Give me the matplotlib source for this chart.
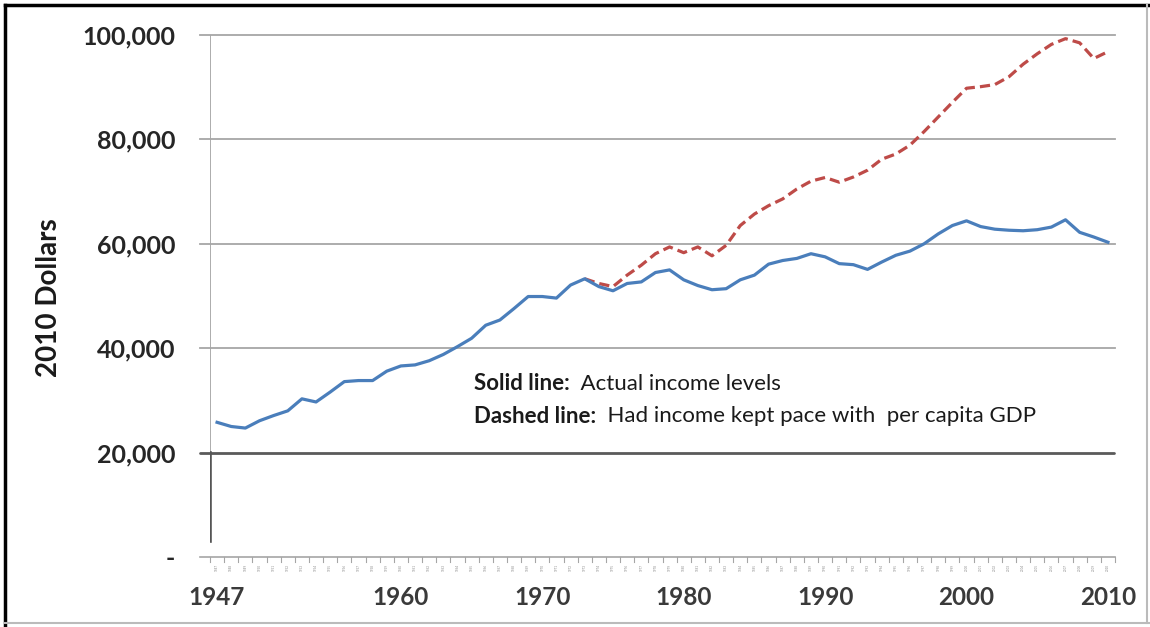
import matplotlib
matplotlib.use('Agg')
import matplotlib.pyplot as plt
from matplotlib.lines import Line2D
import numpy as np

plt.rcParams['font.family'] = ['Lato', 'DejaVu Sans']

# Median family income, 2010 dollars
years = list(range(1947, 2011))
actual_income = [
    25800, 25000, 24700, 26100, 27100, 28000, 30300, 29700, 31600, 33600,
    33800, 33800, 35600, 36600, 36800, 37600, 38800, 40300, 41900, 44400,
    45400, 47600, 49900, 49900, 49600, 52100, 53300, 51800, 51000, 52400,
    52700, 54500, 55000, 53100, 52000, 51200, 51400, 53100, 54000, 56100,
    56800, 57200, 58100, 57500, 56200, 56000, 55100, 56500, 57800, 58600,
    60000, 61900, 63500, 64400, 63300, 62800, 62600, 62500, 62700, 63200,
    64600, 62200, 61300, 60300,
]
# Income had it grown with per capita GDP after 1973
gdp_years = list(range(1973, 2011))
gdp_pace_income = [
    53300, 52400, 51800, 54000, 55900, 58100, 59400, 58300, 59400, 57700,
    59700, 63500, 65700, 67300, 68600, 70500, 72000, 72700, 71800, 72800,
    74100, 76200, 77200, 78900, 81500, 84300, 87100, 89800, 90100, 90500,
    92000, 94400, 96400, 98200, 99300, 98500, 95500, 96800,
]
y_ticks = [0, 20000, 40000, 60000, 80000, 100000]
y_tick_labels = ['-', '20,000', '40,000', '60,000', '80,000', '100,000']
big_year_labels = [1947, 1960, 1970, 1980, 1990, 2000, 2010]

fig = plt.figure(figsize=(11.5, 6.27), dpi=100)
fig.patch.set_facecolor('white')
ax = fig.add_axes([210 / 1150, 70 / 627, 905 / 1150, 522 / 627])

for s in ax.spines.values():
    s.set_visible(False)

ax.set_xlim(1946.5, 2010.5)
ax.set_ylim(0, 100000)

# gridlines with short outward ticks on the left
grid_col = '#a6a6a6'
for v in y_ticks[2:]:
    ax.plot([1945.8, 2010.5], [v, v], color=grid_col, lw=1.3, clip_on=False, zorder=1)
ax.plot([1946.5, 1946.5], [20000, 100000], color=grid_col, lw=1.3, zorder=1)

# heavy line at 20,000 and the stub below it
ax.plot([1945.8, 2010.4], [20000, 20000], color='#5a5a5a', lw=2.0, clip_on=False, zorder=2,
        solid_capstyle='round')
ax.plot([1946.5, 1946.5], [3000, 20000], color='#555555', lw=2.6, zorder=2)

# category axis at zero with a tick between each year
ax.plot([1945.8, 2010.5], [0, 0], color=grid_col, lw=1.2, clip_on=False, zorder=1)
for edge in np.arange(1946.5, 2011, 1.0):
    ax.plot([edge, edge], [0, -900], color=grid_col, lw=0.8, clip_on=False)
for y in years:
    ax.text(y, -1300, str(y), rotation=90, fontsize=2.2, color='#888888',
            ha='center', va='top', clip_on=False)

ax.plot(years, actual_income, color='#4a7ebb', lw=2.3, zorder=4, solid_joinstyle='round')
ax.plot(gdp_years, gdp_pace_income, color='#be4b48', lw=2.3, zorder=3,
        linestyle=(0, (3.2, 1.6)), dash_capstyle='butt')

ax.set_xticks([])
ax.set_yticks(y_ticks)
ax.set_yticklabels(y_tick_labels, fontsize=18, fontweight='bold', color='#262626')
ax.tick_params(axis='y', length=0, pad=25)

for y in big_year_labels:
    ax.text(y, -7800, str(y), fontsize=17.5, fontweight='bold', color='#3a3a3a',
            ha='center', va='center', clip_on=False)

ax.set_ylabel('2010 Dollars', fontsize=20, fontweight='bold', color='#1a1a1a', labelpad=0)
ax.yaxis.set_label_coords(-0.164, 0.497)

# annotation with bold lead-ins
renderer = fig.canvas.get_renderer()
notes = [('Solid line:', '  Actual income levels', 33200),
         ('Dashed line:', '  Had income kept pace with  per capita GDP', 27000)]
for bold_part, rest, yv in notes:
    t = ax.text(1965.15, yv, bold_part, fontsize=16, fontweight='bold', color='#1a1a1a',
                va='center', ha='left')
    bb = t.get_window_extent(renderer=renderer)
    x_next = ax.transData.inverted().transform((bb.x1, bb.y0))[0]
    ax.text(x_next, yv, rest, fontsize=16, color='#1a1a1a', va='center', ha='left')

# outer frame: dark on top and left, light on bottom and right
fig.add_artist(Line2D([5 / 1150, 5 / 1150], [0, 1 - 5 / 627], color='black', lw=2.5,
                      transform=fig.transFigure))
fig.add_artist(Line2D([5 / 1150, 1], [1 - 5 / 627, 1 - 5 / 627], color='black', lw=2.5,
                      transform=fig.transFigure))
fig.add_artist(Line2D([5 / 1150, 1], [4 / 627, 4 / 627], color='#bbbbbb', lw=1.5,
                      transform=fig.transFigure))
fig.add_artist(Line2D([1 - 3 / 1150, 1 - 3 / 1150], [4 / 627, 1 - 5 / 627], color='#bbbbbb',
                      lw=1.5, transform=fig.transFigure))

fig.savefig('out.png', dpi=100)
